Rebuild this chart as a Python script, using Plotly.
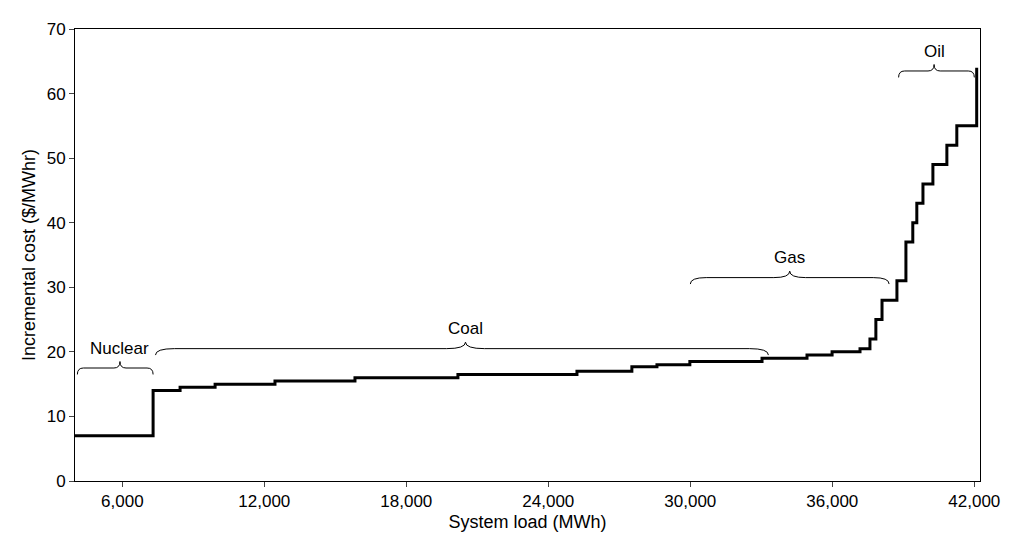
import plotly.graph_objects as go

step_x = [4000, 7300, 8440, 9920, 12450, 15830, 20180, 25210, 27530, 28590, 29980, 33030,
          34930, 35990, 37170, 37590, 37840, 38100, 38730, 39110, 39400, 39570, 39830,
          40250, 40840, 41260, 42100]
step_y = [7, 14, 14.5, 15, 15.5, 16, 16.5, 17, 17.7, 18, 18.5, 19, 19.5, 20, 20.5, 22, 25,
          28, 31, 37, 40, 43, 46, 49, 52, 55, 64]

labels = ["Nuclear", "Coal", "Gas", "Oil"]
brace_x0 = [4100, 7400, 30000, 38800]
brace_x1 = [7300, 33300, 38400, 42000]
brace_tip = [5900, 20500, 34200, 40300]
brace_y = [17.5, 20.5, 31.5, 63.5]

fig = go.Figure()
fig.add_trace(go.Scatter(x=step_x, y=step_y, mode="lines", line=dict(shape="hv", color="black", width=3),
                         hoverinfo="skip"))

shapes = []
annotations = []
for lab, x0, x1, xm, yb in zip(labels, brace_x0, brace_x1, brace_tip, brace_y):
    h = 1.0
    d = min((x1 - x0) * 0.08, 800)
    y0 = yb - h
    yt = yb + h
    path = (f"M {x0},{y0} Q {x0},{yb} {x0+d},{yb} L {xm-d},{yb} Q {xm},{yb} {xm},{yt} "
            f"Q {xm},{yb} {xm+d},{yb} L {x1-d},{yb} Q {x1},{yb} {x1},{y0}")
    shapes.append(dict(type="path", path=path, xref="x", yref="y", line=dict(color="black", width=1)))
    annotations.append(dict(x=xm, y=yt + 0.3, text=lab, showarrow=False, yanchor="bottom",
                            font=dict(size=17, color="black")))

fig.update_layout(
    width=1024, height=547, margin=dict(l=67, r=52, t=17, b=74),
    plot_bgcolor="white", paper_bgcolor="white", showlegend=False,
    font=dict(family="Liberation Sans, Arial", size=17, color="black"),
    shapes=shapes, annotations=annotations,
    xaxis=dict(range=[4000, 42240], tickvals=[6000, 12000, 18000, 24000, 30000, 36000, 42000],
               tickformat=",d", showgrid=False, showline=True, linecolor="black", mirror=True,
               ticks="outside", ticklen=5, zeroline=False,
               title=dict(text="System load (MWh)", standoff=4, font=dict(size=18))),
    yaxis=dict(range=[0, 70], dtick=10, showgrid=False, showline=True, linecolor="black", mirror=True,
               ticks="outside", ticklen=5, zeroline=False,
               title=dict(text="Incremental cost ($/MWhr)", standoff=6, font=dict(size=18))),
)
fig.write_html("out.html")
